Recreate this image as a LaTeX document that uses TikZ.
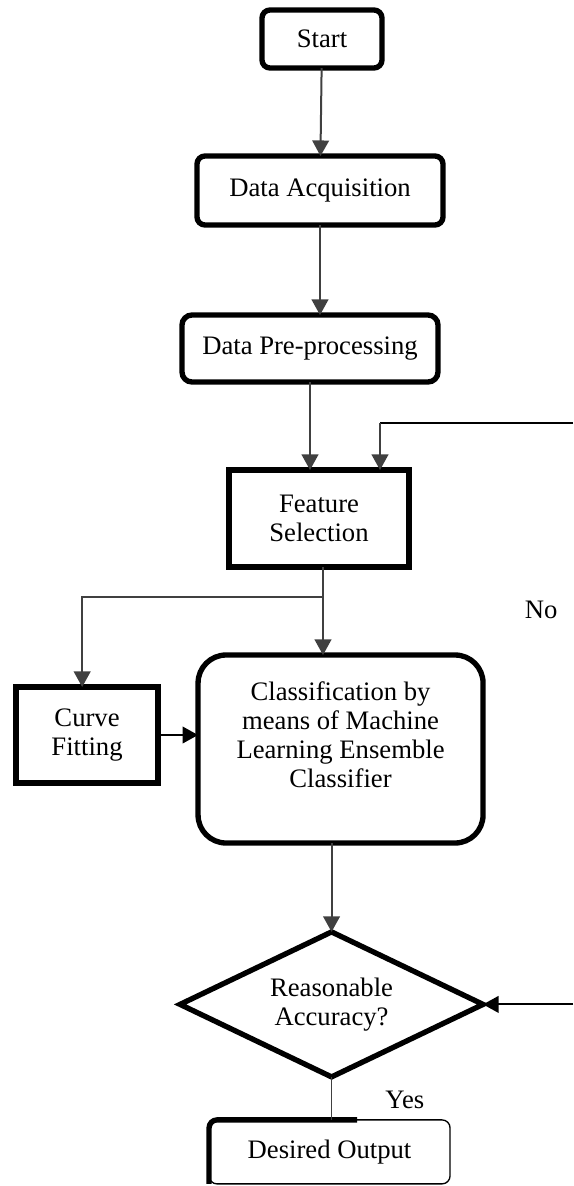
\documentclass[tikz,border=0pt]{standalone}
\usepackage{fontspec}
\setmainfont{Liberation Serif}
\usetikzlibrary{arrows.meta,positioning,shapes.geometric}

\begin{document}
\begin{tikzpicture}[node distance=39.6pt,font=\fontsize{12}{13}\selectfont]

        \tikzstyle{every node}=[outer sep=0pt]
        \tikzstyle{roundbox}=[shape=rectangle,draw,line width=2.4pt,rounded corners=3.6pt,align=center]
        \tikzstyle{squarebox}=[shape=rectangle,draw,line width=2.4pt,align=center]
        \tikzstyle{arr}=[color=black!75,line width=0.9pt,-{Triangle[width=7.5pt,length=7pt]}]
        \tikzstyle{thinline}=[color=black!75,line width=0.7pt]

        \useasboundingbox (0,0) rectangle (257.85pt,-533.7pt);

        \node[roundbox,minimum width=54pt,minimum height=26.1pt] (start) at (144.9pt,-17.55pt) {Start};
        \node[roundbox,minimum width=110.7pt,minimum height=31.05pt] (acq) [below=39.6pt of start,xshift=-0.9pt] {Data Acquisition};
        \node[roundbox,rounded corners=4.5pt,minimum width=115.2pt,minimum height=30.15pt] (pre) [below=40.5pt of acq,xshift=-4.5pt] {Data Pre-processing};
        \node[squarebox,minimum width=81pt,minimum height=43.65pt] (feat) [below=39.6pt of pre,xshift=4.05pt] {Feature\\Selection};
        \node[roundbox,rounded corners=12.6pt,minimum width=128.25pt,minimum height=84.6pt] (clf) [below=39.6pt of feat,xshift=9.7pt] {Classification by\\means of Machine\\Learning Ensemble\\Classifier\\\mbox{}};
        \node[squarebox,minimum width=63.9pt,minimum height=43.2pt] (curve) [left=18pt of clf,yshift=6.3pt] {Curve\\Fitting};
        \node[shape=diamond,draw,line width=2.4pt,shape aspect=2,inner sep=0pt,minimum width=136.35pt,minimum height=65.25pt,align=center] (acc) [below=40pt of clf,xshift=-4.05pt] {Reasonable\\Accuracy?};
        \node[shape=rectangle,draw,line width=0.6pt,rounded corners=3.6pt,minimum width=108.45pt,minimum height=28.8pt] (out) [below=19.35pt of acc,xshift=-0.9pt] {Desired Output};
        \draw[line width=2.4pt,rounded corners=3.6pt] ([xshift=12.4pt]out.north) -- (out.north west) -- (out.south west);

        \node (yes) at ([xshift=33pt,yshift=-10.3pt]acc.south) {Yes};
        \node (no) at (243.5pt,-274.5pt) {No};

        \coordinate (noTop) at (257.85pt,-190.35pt);
        \coordinate (noBot) at (acc.east -| noTop);
        \coordinate (split) at ([xshift=1.8pt,yshift=-13.5pt]feat.south);

        \path [arr] (start) edge (acq);
        \path [arr] (acq.south) edge (acq.south |- pre.north);
        \path [arr] (pre.south) edge (pre.south |- feat.north);
        \draw [line width=0.7pt] (noTop) -- ([xshift=27.45pt]noTop -| feat.north);
        \path [arr] ([xshift=27.45pt]noTop -| feat.north) edge ([xshift=27.45pt]feat.north);

        \path [arr] ([xshift=1.8pt]feat.south) edge ([xshift=1.8pt]feat.south |- clf.north);
        \draw [arr] (split) -| ([xshift=-2.2pt]curve.north);
        \path [arr,color=black] (curve.east) edge (curve.east -| clf.west);

        \path [arr] (acc.north |- clf.south) edge (acc.north);
        \path [arr,color=black] (noBot) edge (acc.east);
        \draw [thinline] (acc.south) -- (acc.south |- out.north);
      \end{tikzpicture}
\end{document}
